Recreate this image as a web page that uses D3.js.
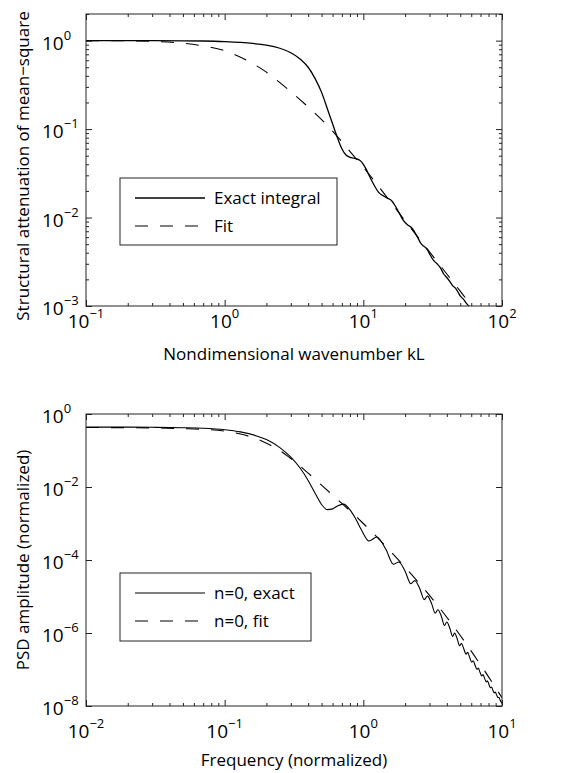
<!DOCTYPE html>
<html>
<head>
<meta charset="utf-8">
<script src="https://cdn.jsdelivr.net/npm/d3@7"></script>
<style>
  body { margin: 0; background: #fff; }
  text { font-family: "Open Sans", sans-serif; fill: #000; }
</style>
</head>
<body>
<svg id="fig" width="564" height="773"></svg>
<script>
// ---- top panel: structural attenuation vs kL
var kLExact = [0.1, 0.3, 0.5, 0.7, 1.0, 1.3, 1.6, 2.0, 2.5, 3.0, 3.5, 4.0, 4.5, 5.0, 5.5, 6.0, 6.5, 7.0, 7.5, 8.0,
               8.5, 9.0, 9.5, 10, 10.5, 11, 12, 13, 14, 15, 16, 17, 18, 19, 20, 21, 22, 23, 24, 25,
               26, 27, 28, 29, 30, 32, 34, 36, 38, 40, 42, 44, 46, 48, 50, 53, 56, 60, 64];
var attExact = [1.0, 0.999, 0.995, 0.99, 0.975, 0.955, 0.93, 0.89, 0.82, 0.73, 0.62, 0.50, 0.37, 0.26, 0.17, 0.115, 0.08, 0.06, 0.051, 0.048,
                0.047, 0.046, 0.044, 0.040, 0.035, 0.030, 0.023, 0.019, 0.0175, 0.0165, 0.0155, 0.0135, 0.0115, 0.0098, 0.0088, 0.0082, 0.0078, 0.0072, 0.0064, 0.0057,
                0.0051, 0.0048, 0.0046, 0.0043, 0.0039, 0.0033, 0.0030, 0.0027, 0.0023, 0.0021, 0.0019, 0.0017, 0.0016, 0.00145, 0.0013, 0.00118, 0.00105, 0.00093, 0.00082];
var kLFit = [0.1, 0.2, 0.3, 0.5, 0.7, 1, 1.5, 2, 2.5, 3, 4, 5, 6, 7, 8, 10, 12, 15, 20, 25, 30, 40, 50, 60, 70];
var attFit = [1.0, 0.995, 0.98, 0.935, 0.87, 0.77, 0.58, 0.44, 0.335, 0.265, 0.178, 0.128, 0.095, 0.072, 0.056, 0.037, 0.026, 0.0165, 0.0092, 0.0059, 0.0041, 0.0023, 0.00147, 0.00102, 0.00075];

// ---- bottom panel: PSD, values given as powers of ten
var freqExact = [0.01, 0.02, 0.03, 0.05, 0.07, 0.1, 0.13, 0.17, 0.2, 0.25, 0.3, 0.35, 0.4, 0.45, 0.5, 0.55, 0.6, 0.65, 0.72, 0.8,
                 0.88, 0.97, 1.1, 1.25, 1.45, 1.65, 1.8, 2.0, 2.2, 2.35, 2.55, 2.75, 2.9, 3.1, 3.3, 3.45, 3.65, 3.85, 4.0, 4.2,
                 4.4, 4.55, 4.75, 4.95, 5.1, 5.3, 5.5, 5.65, 5.85, 6.05, 6.2, 6.4, 6.6, 6.75, 6.95, 7.15, 7.3, 7.5, 7.7, 7.85,
                 8.05, 8.25, 8.4, 8.6, 8.8, 8.95, 9.15, 9.35, 9.5, 9.7, 9.9, 10];
var psdExactExp = [-0.36, -0.36, -0.365, -0.375, -0.39, -0.43, -0.49, -0.60, -0.70, -0.92, -1.18, -1.48, -1.82, -2.18, -2.48, -2.62, -2.60, -2.52, -2.47, -2.62,
                   -2.87, -3.18, -3.48, -3.37, -3.70, -4.118, -4.054, -4.306, -4.65, -4.564, -4.78, -5.085, -4.99, -5.184, -5.459, -5.361, -5.539, -5.794, -5.699, -5.862,
                   -6.094, -5.999, -6.156, -6.35, -6.283, -6.43, -6.58, -6.53, -6.67, -6.80, -6.76, -6.89, -7.00, -6.96, -7.08, -7.18, -7.14, -7.25, -7.34, -7.31,
                   -7.41, -7.50, -7.48, -7.57, -7.64, -7.62, -7.70, -7.77, -7.76, -7.84, -7.90, -7.93];
var freqFit = [0.01, 0.02, 0.03, 0.05, 0.07, 0.1, 0.13, 0.17, 0.2, 0.25, 0.3, 0.4, 0.5, 0.6, 0.7, 0.8, 1.0, 1.3, 1.6, 2.0,
               2.5, 3, 4, 5, 6, 7, 8, 9, 10];
var psdFitExp = [-0.37, -0.375, -0.38, -0.40, -0.42, -0.47, -0.55, -0.68, -0.80, -1.00, -1.22, -1.62, -1.95, -2.22, -2.45, -2.65, -3.0, -3.433, -3.794, -4.196,
                 -4.613, -4.969, -5.569, -6.068, -6.496, -6.871, -7.202, -7.502, -7.774];

// tick exponents
var topXExp = [-1, 0, 1, 2];
var topYExp = [0, -1, -2, -3];
var botXExp = [-2, -1, 0, 1];
var botYExp = [0, -2, -4, -6, -8];

var left = 86, right = 502;
var svg = d3.select("#fig");

function sup(e) { return e < 0 ? "\u2212" + (-e) : String(e); }

function drawPanel(p) {
    var g = svg.append("g");
    var x = d3.scaleLog().domain(p.xDomain).range([left, right]);
    var y = d3.scaleLog().domain(p.yDomain).range([p.bottom, p.top]);

    var xMajor = p.xExp.map(e => Math.pow(10, e));
    var xMinor = [];
    xMajor.slice(0, -1).forEach(function(d) {
        for (var k = 2; k <= 9; k++) xMinor.push(d * k);
    });
    var yMajor = p.yExp.map(e => Math.pow(10, e));
    var yMinor = [];
    if (p.yMinor) {
        y.ticks().forEach(function(d) {
            if (yMajor.every(m => Math.abs(m - d) / m > 1e-6)) yMinor.push(d);
        });
    }

    // inward ticks on all four sides
    function ticks(axisFn, vals, len, tr) {
        var a = g.append("g")
            .attr("transform", tr)
            .call(axisFn.tickValues(vals).tickSize(len).tickSizeOuter(0).tickFormat(""));
        a.select(".domain").remove();
        a.selectAll("line").attr("stroke", "#222").attr("stroke-width", 1);
    }
    ticks(d3.axisBottom(x), xMinor, -3, "translate(0," + p.bottom + ")");
    ticks(d3.axisBottom(x), xMajor, -6, "translate(0," + p.bottom + ")");
    ticks(d3.axisTop(x), xMinor, -3, "translate(0," + p.top + ")");
    ticks(d3.axisTop(x), xMajor, -6, "translate(0," + p.top + ")");
    ticks(d3.axisLeft(y), yMinor, -3, "translate(" + left + ",0)");
    ticks(d3.axisLeft(y), yMajor, -6, "translate(" + left + ",0)");
    ticks(d3.axisRight(y), yMinor, -3, "translate(" + right + ",0)");
    ticks(d3.axisRight(y), yMajor, -6, "translate(" + right + ",0)");

    // curves
    var clipId = "clip" + p.top;
    svg.append("clipPath").attr("id", clipId)
        .append("rect").attr("x", left).attr("y", p.top)
        .attr("width", right - left).attr("height", p.bottom - p.top);

    var line = d3.line()
        .x(d => x(d[0]))
        .y(d => y(d[1]))
        .curve(d3.curveMonotoneX);

    p.series.forEach(function(s) {
        g.append("path")
            .datum(s.data)
            .attr("clip-path", "url(#" + clipId + ")")
            .attr("fill", "none")
            .attr("stroke", "#000")
            .attr("stroke-width", s.width)
            .attr("stroke-dasharray", s.dash)
            .attr("d", line);
    });

    // frame
    g.append("rect")
        .attr("x", left).attr("y", p.top)
        .attr("width", right - left).attr("height", p.bottom - p.top)
        .attr("fill", "none").attr("stroke", "#222").attr("stroke-width", 1);

    // tick labels
    p.xExp.forEach(function(e) {
        var t = g.append("text")
            .attr("x", x(Math.pow(10, e)))
            .attr("y", p.bottom + p.xLabelGap)
            .attr("text-anchor", "middle")
            .style("font-size", "19px");
        t.append("tspan").text("10");
        t.append("tspan").attr("dy", -10).style("font-size", "13px").text(sup(e));
    });
    p.yExp.forEach(function(e) {
        var t = g.append("text")
            .attr("x", 42)
            .attr("y", y(Math.pow(10, e)) + 9)
            .attr("text-anchor", "start")
            .style("font-size", "19px");
        t.append("tspan").text("10");
        t.append("tspan").attr("dy", -10).style("font-size", "13px").text(sup(e));
    });

    // axis titles
    g.append("text")
        .attr("x", (left + right) / 2)
        .attr("y", p.bottom + p.xTitleGap)
        .attr("text-anchor", "middle")
        .style("font-size", "17px")
        .text(p.xTitle);
    g.append("text")
        .attr("transform", "translate(29," + ((p.top + p.bottom) / 2 + p.yTitleShift) + ") rotate(-90)")
        .attr("text-anchor", "middle")
        .style("font-size", "17px")
        .text(p.yTitle);

    // legend
    var L = p.legend;
    g.append("rect")
        .attr("x", L.x).attr("y", L.y).attr("width", L.w).attr("height", L.h)
        .attr("fill", "#fff").attr("stroke", "#222").attr("stroke-width", 1);
    p.series.forEach(function(s, i) {
        var ly = L.y + 20 + i * 28;
        g.append("line")
            .attr("x1", L.x + 15).attr("x2", L.x + 85)
            .attr("y1", ly).attr("y2", ly)
            .attr("stroke", "#000").attr("stroke-width", s.width)
            .attr("stroke-dasharray", s.dash);
        g.append("text")
            .attr("x", L.x + 94).attr("y", ly + 6)
            .style("font-size", "17px")
            .text(s.name);
    });
}

drawPanel({
    top: 14, bottom: 306,
    xDomain: [0.1, 100], yDomain: [1e-3, 2],
    xExp: topXExp, yExp: topYExp, yMinor: true,
    xLabelGap: 22, xTitleGap: 54, yTitleShift: 6,
    xTitle: "Nondimensional wavenumber kL",
    yTitle: "Structural attenuation of mean\u2212square",
    legend: { x: 120, y: 178, w: 217, h: 67 },
    series: [
        { name: "Exact integral", data: kLExact.map((k, i) => [k, attExact[i]]), width: 1.3, dash: null },
        { name: "Fit", data: kLFit.map((k, i) => [k, attFit[i]]), width: 1.1, dash: "13,12" }
    ]
});

drawPanel({
    top: 414, bottom: 706,
    xDomain: [0.01, 10], yDomain: [1e-8, 1],
    xExp: botXExp, yExp: botYExp, yMinor: false,
    xLabelGap: 32, xTitleGap: 60, yTitleShift: 0,
    xTitle: "Frequency (normalized)",
    yTitle: "PSD amplitude (normalized)",
    legend: { x: 120, y: 573, w: 191, h: 68 },
    series: [
        { name: "n=0, exact", data: freqExact.map((f, i) => [f, Math.pow(10, psdExactExp[i])]), width: 1.1, dash: null },
        { name: "n=0, fit", data: freqFit.map((f, i) => [f, Math.pow(10, psdFitExp[i])]), width: 1.1, dash: "13,12" }
    ]
});
</script>
</body>
</html>
